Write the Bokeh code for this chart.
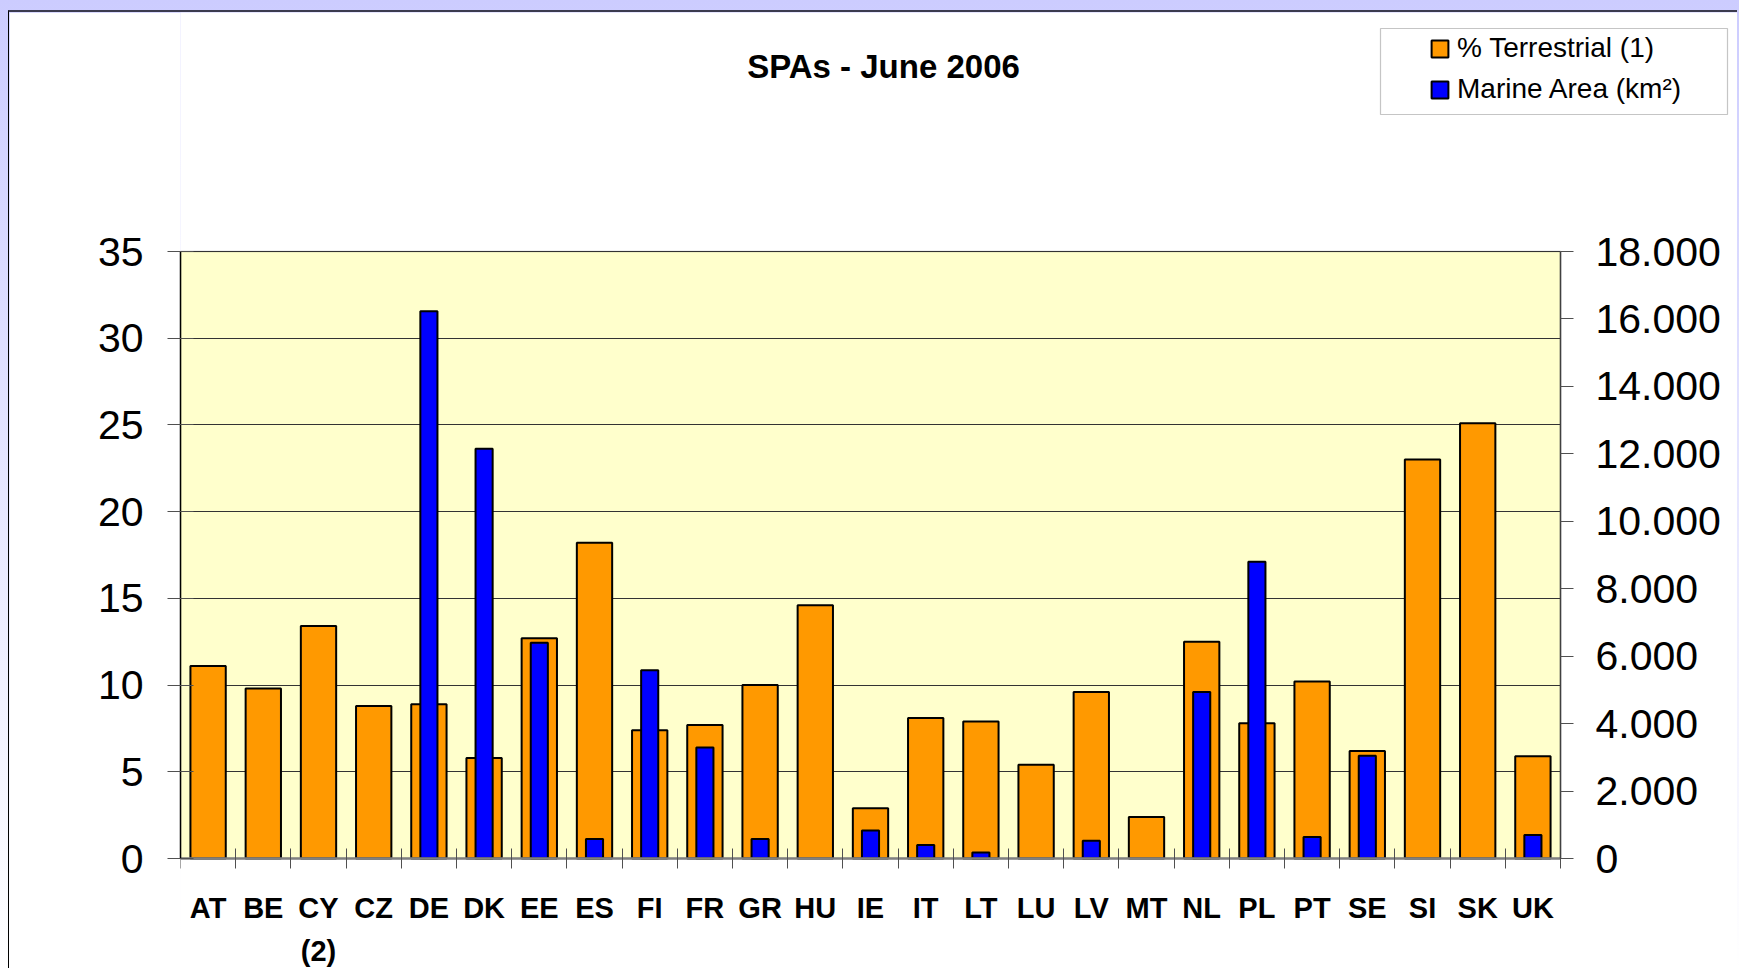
from bokeh.plotting import figure
from bokeh.models import (ColumnDataSource, Range1d, LinearAxis, FixedTicker,
                          Legend, LegendItem, Label, BoxAnnotation)
from bokeh.embed import file_html
from bokeh.resources import INLINE

# ---- data ----
countries = ["AT", "BE", "CY\n(2)", "CZ", "DE", "DK", "EE", "ES", "FI", "FR", "GR", "HU", "IE",
             "IT", "LT", "LU", "LV", "MT", "NL", "PL", "PT", "SE", "SI", "SK", "UK"]
terrestrial_pct = [11.1, 9.8, 13.4, 8.8, 8.9, 5.8, 12.7, 18.2, 7.4, 7.7, 10.0, 14.6, 2.9,
                   8.1, 7.9, 5.4, 9.6, 2.4, 12.5, 7.8, 10.2, 6.2, 23.0, 25.1, 5.9]
marine_km2 = [0, 0, 0, 0, 16230, 12150, 6400, 580, 5580, 3290, 580, 0, 830,
              400, 180, 0, 530, 0, 4940, 8800, 640, 3050, 0, 0, 700]
left_ticks = [0, 5, 10, 15, 20, 25, 30, 35]
right_ticks = [0, 2000, 4000, 6000, 8000, 10000, 12000, 14000, 16000, 18000]
right_tick_labels = ["0", "2.000", "4.000", "6.000", "8.000", "10.000", "12.000",
                     "14.000", "16.000", "18.000"]
title_text = "SPAs - June 2006"
series_names = ["% Terrestrial (1)", "Marine Area (km²)"]

FONT = "Liberation Sans"
n = len(countries)
xs = list(range(n))
x_lo, x_hi = -0.5, n - 0.5
left_max, right_max = left_ticks[-1], right_ticks[-1]

# ---- layout (page pixels) ----
CANVAS_X0, CANVAS_Y0 = 9, 12          # canvas origin on the page (after css margins/borders)
W, H = 1729, 958
B_LEFT = 171
FX0, FX1 = CANVAS_X0 + B_LEFT, CANVAS_X0 + W     # frame edges
FY0, FY1 = CANVAS_Y0, CANVAS_Y0 + H
PA_L, PA_R, PA_T, PA_B = 180, 1560, 251, 858     # yellow plotting area
ux = (x_hi - x_lo) / (PA_R - PA_L)               # data units per px
uy_l = left_max / (PA_B - PA_T)
uy_r = right_max / (PA_B - PA_T)

terr_src = ColumnDataSource(dict(x=xs, top=terrestrial_pct))
mx = [x for x, m in zip(xs, marine_km2) if m > 0]
mv = [m for m in marine_km2 if m > 0]
mar_src = ColumnDataSource(dict(x=mx, top=mv))

p = figure(width=W, height=H, output_backend="svg", toolbar_location=None,
           x_range=Range1d(x_lo - (PA_L - FX0) * ux, x_hi + (FX1 - PA_R) * ux),
           y_range=Range1d(-(FY1 - PA_B) * uy_l, (PA_B - FY0) * uy_l),
           min_border_left=B_LEFT, min_border_right=0, min_border_top=0,
           min_border_bottom=0, border_fill_color="white",
           background_fill_color="white", outline_line_color=None)
p.styles = {"border-top": "2px solid #3b3b4f", "border-left": "1px solid #000000",
            "margin-top": "2px"}
p.extra_y_ranges = {"marine": Range1d(-(FY1 - PA_B) * uy_r, (PA_B - FY0) * uy_r)}

# yellow plotting area
p.add_layout(BoxAnnotation(left=x_lo, right=x_hi, bottom=0, top=left_max,
                           fill_color="#FFFFCC", fill_alpha=1.0,
                           line_color="#404040", line_width=1.5, level="image"))

# grid
p.xgrid.visible = False
p.ygrid.ticker = FixedTicker(ticks=left_ticks)
p.ygrid.grid_line_color = "#333333"
p.ygrid.grid_line_width = 1
try:
    p.ygrid.cross_bounds = (x_lo, x_hi)
except Exception:
    p.ygrid.visible = False
    p.segment(x0=[x_lo] * len(left_ticks), x1=[x_hi] * len(left_ticks),
              y0=left_ticks, y1=left_ticks, line_color="#333333", line_width=1,
              level="underlay")

# left axis
yax = p.yaxis[0]
yax.ticker = FixedTicker(ticks=left_ticks)
yax.bounds = (0, left_max)
yax.axis_line_color = "black"
yax.axis_line_width = 1.5
yax.major_tick_in = 13
yax.major_tick_out = 13
yax.major_tick_line_color = "#505050"
yax.minor_tick_line_color = None
yax.major_label_standoff = 24
yax.major_label_text_font = FONT
yax.major_label_text_font_size = "41px"
yax.major_label_text_color = "black"

# right axis (drawn at the right edge of the plotting area)
rax = LinearAxis(y_range_name="marine", ticker=FixedTicker(ticks=right_ticks),
                 fixed_location=x_hi)
rax.bounds = (0, right_max)
rax.major_label_overrides = {t: l for t, l in zip(right_ticks, right_tick_labels)}
rax.axis_line_color = "#404040"
rax.axis_line_width = 1.5
rax.major_tick_in = 0
rax.major_tick_out = 13
rax.major_tick_line_color = "#505050"
rax.minor_tick_line_color = None
rax.major_label_standoff = 22
rax.major_label_text_font = FONT
rax.major_label_text_font_size = "41px"
rax.major_label_text_color = "black"
p.add_layout(rax, "right")

# x axis (drawn at y = 0)
xax = p.xaxis[0]
xax.fixed_location = 0
xax.bounds = (x_lo, x_hi)
xax.ticker = FixedTicker(ticks=xs, minor_ticks=[x - 0.5 for x in xs] + [x_hi])
xax.major_label_overrides = {x: c for x, c in zip(xs, countries)}
xax.major_tick_line_color = None
xax.major_tick_in = 0
xax.major_tick_out = 0
xax.minor_tick_line_color = "#505050"
xax.minor_tick_in = 10
xax.minor_tick_out = 10
xax.axis_line_color = "#808080"
xax.axis_line_width = 2.5
xax.major_label_standoff = 23
xax.major_label_text_font = FONT
xax.major_label_text_font_size = "29px"
xax.major_label_text_font_style = "bold"
xax.major_label_text_color = "black"
xax.major_label_text_line_height = 1.35

# bars
r1 = p.vbar(x="x", top="top", width=0.64, bottom=0, source=terr_src,
            fill_color="#FF9900", line_color="black", line_width=2)
r2 = p.vbar(x="x", top="top", width=0.31, bottom=0, source=mar_src, y_range_name="marine",
            fill_color="#0000FF", line_color="black", line_width=2)

# title (screen units, relative to the frame's bottom-left)
p.add_layout(Label(x=883 - FX0, y=FY1 - 66, x_units="screen", y_units="screen",
                   text=title_text, text_align="center", text_baseline="middle",
                   text_font=FONT, text_font_size="33px", text_font_style="bold",
                   text_color="black"))

# legend box + legend
p.add_layout(BoxAnnotation(left=1380 - FX0, right=1727 - FX0, bottom=FY1 - 114,
                           top=FY1 - 28,
                           left_units="screen", right_units="screen",
                           bottom_units="screen", top_units="screen",
                           fill_color="white", fill_alpha=1.0,
                           line_color="#404040", line_width=1.2))
legend = Legend(items=[LegendItem(label=series_names[0], renderers=[r1]),
                       LegendItem(label=series_names[1], renderers=[r2])],
                location=(1429 - FX0, FY1 - 107), padding=0, margin=0, spacing=5,
                glyph_width=21, glyph_height=21, label_height=36, label_standoff=7,
                label_text_font=FONT, label_text_font_size="28px",
                label_text_color="black",
                background_fill_alpha=0, border_line_alpha=0)
p.add_layout(legend)

html = file_html(p, INLINE)
page_style = ("<style>html{margin:0 !important;padding:0 !important;}"
              "body{margin:8px 0 0 8px !important;padding:0 !important;overflow:hidden !important;"
              "background:linear-gradient(#CCCCFF,#FFFFFF) fixed !important;}</style>")
html = html.replace("</head>", page_style + "</head>", 1)
open("out.html", "w").write(html)
